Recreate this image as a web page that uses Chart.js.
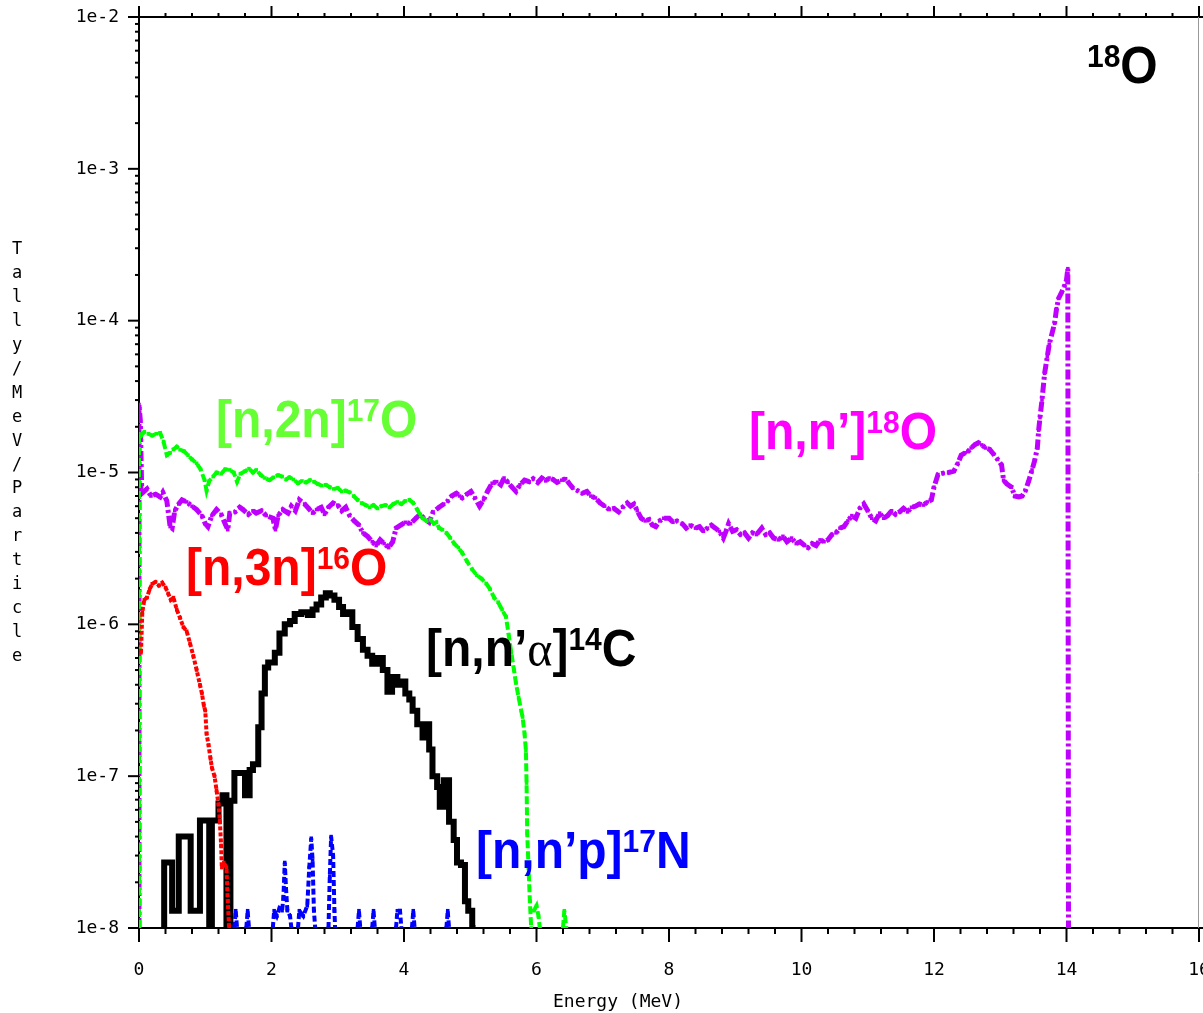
<!DOCTYPE html>
<html>
<head>
<meta charset="utf-8">
<script src="https://cdn.jsdelivr.net/npm/chart.js@4.4.1/dist/chart.umd.min.js"></script>
<style>
  html, body { margin: 0; padding: 0; background: #fff; }
  #wrap { width: 1203px; height: 1013px; }
</style>
</head>
<body>
<div id="wrap"><canvas id="chart" width="1203" height="1013"></canvas></div>
<script>
// Tally/MeV/Particle vs energy for n + 18O.
// null = empty bin (line broken), 1e-8 = drop to the floor of the axis.

// [n,n']18O
const nnX = [0, 0, 0.02, 0.04, 0.06, 0.12, 0.18, 0.25, 0.32, 0.36, 0.42, 0.47, 0.5, 0.54, 0.6, 0.65, 0.72, 0.8, 0.87, 0.95,
  1.0, 1.04, 1.1, 1.17, 1.24, 1.3, 1.34, 1.37, 1.45, 1.52, 1.57, 1.65, 1.72, 1.77, 1.85, 1.92, 2.02, 2.06, 2.1, 2.17,
  2.25, 2.3, 2.36, 2.42, 2.5, 2.56, 2.62, 2.68, 2.75, 2.8, 2.86, 2.93, 3.0, 3.06, 3.12, 3.18, 3.25, 3.32, 3.38, 3.45,
  3.52, 3.58, 3.64, 3.7, 3.77, 3.83, 3.88, 3.95, 4.02, 4.1, 4.18, 4.24, 4.3, 4.38, 4.44, 4.53, 4.6, 4.66, 4.72, 4.79,
  4.84, 4.88, 4.95, 5.01, 5.07, 5.14, 5.2, 5.26, 5.33, 5.4, 5.46, 5.51, 5.57, 5.63, 5.69, 5.75, 5.82, 5.89, 5.95, 6.02,
  6.08, 6.14, 6.19, 6.25, 6.31, 6.38, 6.44, 6.49, 6.55, 6.62, 6.69, 6.76, 6.82, 6.89, 6.96, 7.03, 7.1, 7.17, 7.24, 7.3,
  7.37, 7.42, 7.47, 7.52, 7.58, 7.64, 7.7, 7.75, 7.8, 7.86, 7.92, 8.0, 8.06, 8.12, 8.2, 8.26, 8.32, 8.4, 8.46, 8.52,
  8.58, 8.64, 8.7, 8.76, 8.82, 8.86, 8.9, 8.96, 9.02, 9.08, 9.14, 9.2, 9.26, 9.32, 9.4, 9.46, 9.52, 9.58, 9.65, 9.72,
  9.78, 9.85, 9.92, 9.98, 10.05, 10.1, 10.16, 10.22, 10.28, 10.34, 10.4, 10.46, 10.52, 10.58, 10.64, 10.7, 10.76, 10.82, 10.88, 10.94,
  11.0, 11.06, 11.12, 11.18, 11.24, 11.3, 11.36, 11.42, 11.48, 11.54, 11.6, 11.66, 11.72, 11.78, 11.84, 11.9, 11.96, 12.0, 12.06, 12.14,
  12.22, 12.3, 12.36, 12.41, 12.47, 12.51, 12.56, 12.62, 12.67, 12.72, 12.78, 12.84, 12.9, 12.96, 13.02, 13.05, 13.1, 13.17, 13.22, 13.28,
  13.33, 13.38, 13.43, 13.48, 13.52, 13.56, 13.58, 13.6, 13.63, 13.67, 13.71, 13.74, 13.78, 13.82, 13.85, 13.88, 13.93, 13.97, 14.0, 14.02,
  14.03];
const nnY = [1e-8, 2.8e-5, 2.2e-5, 8e-6, 7.4e-6, 7.8e-6, 7.0e-6, 7.2e-6, 6.9e-6, 7.4e-6, 6.5e-6, 4.4e-6, 4.3e-6, 5.6e-6, 6.2e-6, 6.6e-6, 6.4e-6, 6.0e-6, 5.7e-6, 5.2e-6,
  4.6e-6, 4.4e-6, 5.2e-6, 5.7e-6, 5.3e-6, 4.6e-6, 4.2e-6, 5.4e-6, 5.5e-6, 5.9e-6, 5.7e-6, 5.3e-6, 5.6e-6, 5.4e-6, 5.6e-6, 5.2e-6, 5.0e-6, 4.2e-6, 5.2e-6, 5.7e-6,
  5.4e-6, 6.0e-6, 5.6e-6, 6.6e-6, 6.2e-6, 5.8e-6, 5.4e-6, 5.7e-6, 5.9e-6, 5.3e-6, 5.9e-6, 6.3e-6, 6.1e-6, 5.6e-6, 5.9e-6, 5.2e-6, 4.8e-6, 4.5e-6, 4.0e-6, 3.8e-6,
  3.5e-6, 3.3e-6, 3.6e-6, 3.4e-6, 3.2e-6, 3.5e-6, 4.3e-6, 4.5e-6, 4.7e-6, 4.6e-6, 5.0e-6, 5.3e-6, 5.0e-6, 4.7e-6, 5.5e-6, 5.9e-6, 6.2e-6, 6.5e-6, 7.0e-6, 7.3e-6,
  7.0e-6, 6.8e-6, 7.2e-6, 7.5e-6, 6.8e-6, 6.0e-6, 6.6e-6, 7.5e-6, 8.5e-6, 8.7e-6, 8.3e-6, 9.2e-6, 8.6e-6, 8.0e-6, 7.5e-6, 8.3e-6, 8.9e-6, 8.7e-6, 9.1e-6, 8.6e-6,
  9.2e-6, 8.8e-6, 9.2e-6, 9.0e-6, 8.6e-6, 8.9e-6, 9.1e-6, 8.5e-6, 7.9e-6, 7.6e-6, 7.3e-6, 7.5e-6, 7.0e-6, 6.8e-6, 6.3e-6, 6.0e-6, 5.7e-6, 5.8e-6, 5.5e-6, 5.9e-6,
  6.3e-6, 6.0e-6, 6.2e-6, 5.6e-6, 5.0e-6, 4.8e-6, 4.9e-6, 4.5e-6, 4.4e-6, 4.8e-6, 5.0e-6, 5.0e-6, 4.7e-6, 4.8e-6, 4.6e-6, 4.3e-6, 4.5e-6, 4.3e-6, 4.4e-6, 4.1e-6,
  4.3e-6, 4.5e-6, 4.3e-6, 4.1e-6, 3.7e-6, 4.1e-6, 4.6e-6, 4.1e-6, 4.2e-6, 3.9e-6, 4.0e-6, 3.7e-6, 4.0e-6, 3.9e-6, 4.3e-6, 3.9e-6, 4.0e-6, 3.7e-6, 3.6e-6, 3.8e-6,
  3.5e-6, 3.7e-6, 3.4e-6, 3.5e-6, 3.3e-6, 3.2e-6, 3.4e-6, 3.3e-6, 3.6e-6, 3.5e-6, 3.6e-6, 3.9e-6, 4.0e-6, 4.3e-6, 4.4e-6, 4.8e-6, 5.2e-6, 5.0e-6, 5.8e-6, 6.2e-6,
  5.6e-6, 5.0e-6, 4.8e-6, 5.4e-6, 5.0e-6, 5.2e-6, 5.6e-6, 5.3e-6, 5.5e-6, 5.8e-6, 5.5e-6, 5.9e-6, 6.0e-6, 6.2e-6, 6.1e-6, 6.4e-6, 6.6e-6, 8.0e-6, 9.7e-6, 9.9e-6,
  1.0e-5, 1.02e-5, 1.15e-5, 1.3e-5, 1.35e-5, 1.37e-5, 1.45e-5, 1.53e-5, 1.57e-5, 1.52e-5, 1.45e-5, 1.42e-5, 1.32e-5, 1.22e-5, 1.12e-5, 8.9e-6, 8.4e-6, 8.0e-6, 7.0e-6, 6.9e-6,
  7.0e-6, 7.6e-6, 8.8e-6, 1.04e-5, 1.2e-5, 1.45e-5, 1.9e-5, 2.3e-5, 3.0e-5, 4.5e-5, 5.8e-5, 7.0e-5, 8.2e-5, 9.6e-5, 1.2e-4, 1.4e-4, 1.55e-4, 1.7e-4, 1.85e-4, 2.2e-4,
  1e-8];

// [n,2n]17O
const n2nX = [0, 0, 0.03, 0.08, 0.14, 0.2, 0.26, 0.32, 0.37, 0.42, 0.47, 0.52, 0.57, 0.62, 0.68, 0.74, 0.8, 0.87, 0.93, 0.99,
  1.02, 1.06, 1.12, 1.17, 1.24, 1.3, 1.37, 1.43, 1.48, 1.53, 1.6, 1.66, 1.72, 1.77, 1.84, 1.9, 1.97, 2.03, 2.1, 2.16,
  2.22, 2.27, 2.33, 2.4, 2.46, 2.52, 2.58, 2.64, 2.7, 2.76, 2.82, 2.88, 2.94, 3.0, 3.06, 3.12, 3.18, 3.24, 3.3, 3.36,
  3.42, 3.48, 3.54, 3.6, 3.66, 3.72, 3.78, 3.84, 3.9, 3.96, 4.02, 4.08, 4.14, 4.2, 4.25, 4.28, 4.34, 4.4, 4.45, 4.49,
  4.53, 4.58, 4.64, 4.7, 4.76, 4.82, 4.88, 4.95, 5.03, 5.1, 5.17, 5.24, 5.3, 5.36, 5.42, 5.48, 5.54, 5.58, 5.62, 5.66,
  5.69, 5.73, 5.77, 5.79, 5.82, 5.84, 5.85, 5.86, 5.88, 5.9, 5.92, 5.92, 5.96, 6.0, 6.03, 6.05, 6.05, 6.4, 6.42, 6.45];
const n2nY = [1e-8, 1.8e-5, 1.75e-5, 1.85e-5, 1.8e-5, 1.75e-5, 1.8e-5, 1.82e-5, 1.6e-5, 1.3e-5, 1.35e-5, 1.42e-5, 1.48e-5, 1.41e-5, 1.38e-5, 1.3e-5, 1.22e-5, 1.15e-5, 1.05e-5, 8.9e-6,
  7.6e-6, 8.8e-6, 9.4e-6, 1.0e-5, 9.8e-6, 1.05e-5, 1.04e-5, 1.0e-5, 8.7e-6, 9.8e-6, 1.02e-5, 1.06e-5, 1.0e-5, 1.04e-5, 9.6e-6, 9.2e-6, 8.9e-6, 9.3e-6, 9.6e-6, 9.4e-6,
  9.0e-6, 9.3e-6, 9.0e-6, 8.5e-6, 8.8e-6, 8.6e-6, 8.9e-6, 8.7e-6, 8.4e-6, 8.2e-6, 8.3e-6, 8.0e-6, 7.8e-6, 7.9e-6, 7.5e-6, 7.6e-6, 7.4e-6, 7.0e-6, 6.6e-6, 6.3e-6,
  6.1e-6, 5.9e-6, 6.1e-6, 5.8e-6, 6.0e-6, 6.1e-6, 5.9e-6, 6.2e-6, 6.4e-6, 6.2e-6, 6.5e-6, 6.6e-6, 6.3e-6, 5.7e-6, 5.2e-6, 5.0e-6, 4.8e-6, 4.9e-6, 4.6e-6, 4.7e-6,
  4.3e-6, 4.2e-6, 4.0e-6, 3.7e-6, 3.4e-6, 3.2e-6, 2.95e-6, 2.6e-6, 2.3e-6, 2.1e-6, 2.0e-6, 1.86e-6, 1.7e-6, 1.5e-6, 1.4e-6, 1.25e-6, 1.12e-6, 8.5e-7, 6.5e-7, 5.0e-7,
  4.1e-7, 3.3e-7, 2.7e-7, 2.45e-7, 1.9e-7, 1.48e-7, 9e-8, 4.2e-8, 2.5e-8, 1.5e-8, 1e-8, null, 1.3e-8, 1.4e-8, 1.2e-8, 1e-8, null, 1e-8, 1.3e-8, 1e-8];

// [n,3n]16O
const n3nX = [0.03, 0.05, 0.08, 0.12, 0.16, 0.2, 0.25, 0.3, 0.35, 0.4, 0.44, 0.48, 0.52, 0.57, 0.62, 0.67, 0.72, 0.77, 0.82, 0.87,
  0.92, 0.95, 0.98, 1.0, 1.02, 1.05, 1.08, 1.1, 1.14, 1.17, 1.2, 1.22, 1.24, 1.25, 1.28, 1.32, 1.34, 1.36];
const n3nY = [6.5e-7, 1.2e-6, 1.45e-6, 1.5e-6, 1.7e-6, 1.85e-6, 1.9e-6, 1.8e-6, 1.88e-6, 1.75e-6, 1.6e-6, 1.45e-6, 1.5e-6, 1.25e-6, 1.1e-6, 9.6e-7, 9.0e-7, 7.5e-7, 6.2e-7, 5.0e-7,
  4.0e-7, 3.5e-7, 2.9e-7, 2.7e-7, 1.9e-7, 1.6e-7, 1.3e-7, 1.14e-7, 1.0e-7, 8.1e-8, 6.5e-8, 5.1e-8, 3.5e-8, 2.5e-8, 2.7e-8, 2.5e-8, 1.5e-8, 1e-8];

// [n,n'alpha]14C (histogram, stepped)
const nnaX = [0.38, 0.38, 0.5, 0.6, 0.78, 0.92, 1.06, 1.1, 1.2, 1.26, 1.32, 1.38, 1.44, 1.6, 1.67, 1.72, 1.8, 1.85, 1.9, 1.95,
  2.05, 2.12, 2.2, 2.28, 2.35, 2.45, 2.55, 2.62, 2.68, 2.75, 2.82, 2.88, 2.95, 3.02, 3.08, 3.15, 3.22, 3.3, 3.38, 3.45,
  3.52, 3.6, 3.68, 3.75, 3.82, 3.9, 3.96, 4.02, 4.08, 4.13, 4.2, 4.28, 4.34, 4.38, 4.43, 4.5, 4.54, 4.6, 4.68, 4.75,
  4.8, 4.86, 4.92, 4.97, 5.03, 5.08];
const nnaY = [1e-8, 1.3e-8, 2.7e-8, 1.3e-8, 4.0e-8, 1.3e-8, 5.1e-8, 1e-8, 5.1e-8, 6.6e-8, 7.5e-8, 1e-8, 6.9e-8, 1.05e-7, 7.5e-8, 1.1e-7, 1.2e-7, 2.1e-7, 3.5e-7, 5.2e-7,
  5.6e-7, 6.5e-7, 8.7e-7, 1.0e-6, 1.05e-6, 1.17e-6, 1.2e-6, 1.15e-6, 1.25e-6, 1.35e-6, 1.5e-6, 1.6e-6, 1.55e-6, 1.45e-6, 1.3e-6, 1.17e-6, 1.2e-6, 9.6e-7, 8.0e-7, 6.8e-7,
  6.2e-7, 5.5e-7, 6.0e-7, 5.0e-7, 3.6e-7, 4.5e-7, 4.0e-7, 4.2e-7, 3.5e-7, 3.2e-7, 2.7e-7, 2.2e-7, 1.8e-7, 2.2e-7, 1.5e-7, 1.0e-7, 8.5e-8, 6.3e-8, 9.4e-8, 5.0e-8,
  3.8e-8, 2.7e-8, 2.6e-8, 1.5e-8, 1.3e-8, 1e-8];

// [n,n'p]17N (only a few non-empty bins)
const nnpX = [1.44, 1.46, 1.48, 1.5, 1.62, 1.64, 1.66, 1.7, 2.02, 2.04, 2.08, 2.12, 2.16, 2.18, 2.2, 2.22, 2.24, 2.28, 2.3, 2.35,
  2.4, 2.42, 2.48, 2.54, 2.57, 2.6, 2.62, 2.64, 2.66, 2.75, 2.86, 2.88, 2.9, 2.93, 2.95, 2.96, 3.1, 3.3, 3.32, 3.34,
  3.4, 3.52, 3.54, 3.56, 3.7, 3.88, 3.9, 3.94, 3.96, 4.0, 4.12, 4.14, 4.16, 4.4, 4.64, 4.66, 4.68];
const nnpY = [1e-8, 1.3e-8, 1e-8, null, 1e-8, 1.3e-8, 1e-8, null, 1e-8, 1.3e-8, 1.2e-8, 1.35e-8, 1.3e-8, 1.6e-8, 2.7e-8, 1.8e-8, 1.3e-8, 1.2e-8, 1e-8, null,
  1e-8, 1.3e-8, 1.2e-8, 1.4e-8, 2.5e-8, 3.9e-8, 2.8e-8, 1.3e-8, 1e-8, null, 1e-8, 2.2e-8, 4.0e-8, 3.0e-8, 1.3e-8, 1e-8, null, 1e-8, 1.3e-8, 1e-8,
  null, 1e-8, 1.3e-8, 1e-8, null, 1e-8, 1.3e-8, 1.3e-8, 1e-8, null, 1e-8, 1.3e-8, 1e-8, null, 1e-8, 1.3e-8, 1e-8];

const xTicks = [0, 2, 4, 6, 8, 10, 12, 14, 16];
const yTicks = [1e-8, 1e-7, 1e-6, 1e-5, 1e-4, 1e-3, 1e-2];

const pts = (xs, ys) => xs.map((x, i) => ({ x: x, y: ys[i] }));

function series(label, xs, ys, color, dash, width, stepped) {
  return {
    label: label,
    data: pts(xs, ys),
    borderColor: color,
    backgroundColor: color,
    borderWidth: width,
    borderDash: dash,
    stepped: stepped || false,
    pointRadius: stepped ? 0 : 2.5,
    pointStyle: 'rect',
    pointBorderWidth: 0,
    pointBackgroundColor: color,
    spanGaps: false,
    tension: 0
  };
}

const mono = '"DejaVu Sans Mono", monospace';

function seg(ctx, x1, y1, x2, y2) {
  ctx.beginPath();
  ctx.moveTo(x1, y1);
  ctx.lineTo(x2, y2);
  ctx.stroke();
}

// text with superscripts, a little taller than plain Arial like the original slide
function drawRich(ctx, parts, x, y, color) {
  ctx.save();
  ctx.translate(x, y);
  ctx.scale(1, 1.07);
  ctx.fillStyle = color;
  ctx.textBaseline = 'alphabetic';
  ctx.textAlign = 'left';
  let cx = 0;
  for (const [t, kind] of parts) {
    let dy = 0;
    if (kind === 'sup') { ctx.font = 'bold 30px "Liberation Sans"'; dy = -15; }
    else if (kind === 'greek') ctx.font = '48px "Liberation Serif"';
    else ctx.font = 'bold 48px "Liberation Sans"';
    ctx.fillText(t, cx, dy);
    cx += ctx.measureText(t).width;
  }
  ctx.restore();
}

const notes = [
  { parts: [['18', 'sup'], ['O', '']], color: '#000000', x: 1087, y: 83 },
  { parts: [['[n,2n]', ''], ['17', 'sup'], ['O', '']], color: '#66ff33', x: 216, y: 437 },
  { parts: [['[n,n\u2019]', ''], ['18', 'sup'], ['O', '']], color: '#ff00ff', x: 749, y: 449 },
  { parts: [['[n,3n]', ''], ['16', 'sup'], ['O', '']], color: '#ff0000', x: 186, y: 585 },
  { parts: [['[n,n\u2019', ''], ['\u03b1', 'greek'], [']', ''], ['14', 'sup'], ['C', '']], color: '#000000', x: 426, y: 666 },
  { parts: [['[n,n\u2019p]', ''], ['17', 'sup'], ['N', '']], color: '#0000ff', x: 476, y: 868 }
];

const frame = {
  id: 'frame',
  beforeDatasetsDraw(chart) {
    const { ctx, chartArea: a, scales: { x, y } } = chart;
    ctx.save();
    ctx.strokeStyle = '#000';
    ctx.lineWidth = 2;
    seg(ctx, a.left, a.top - 11, a.left, a.bottom + 14);
    seg(ctx, a.left - 9, a.top, 1203, a.top);
    seg(ctx, a.left - 9, a.bottom, 1203, a.bottom);
    // x ticks every 0.4 MeV, long ones at the labelled values
    for (let i = 0; i <= 40; i++) {
      const px = x.getPixelForValue(i * 0.4);
      const major = i % 5 === 0;
      seg(ctx, px, a.bottom, px, a.bottom + (major ? 14 : 6));
      seg(ctx, px, a.top, px, a.top - (major ? 11 : 4));
    }
    // y ticks, decades long, 2..9 short
    for (let e = -8; e <= -2; e++) {
      for (let k = 1; k <= 9; k++) {
        if (e === -2 && k > 1) break;
        const py = y.getPixelForValue(k * Math.pow(10, e));
        if (k === 1) seg(ctx, a.left - 11, py, a.left + 1, py);
        else seg(ctx, a.left - 4, py, a.left, py);
      }
    }
    ctx.strokeStyle = '#999';
    ctx.lineWidth = 1;
    seg(ctx, a.right - 0.5, a.top, a.right - 0.5, a.bottom);
    ctx.restore();
  },
  afterDraw(chart) {
    const { ctx, scales: { x } } = chart;
    ctx.save();
    ctx.fillStyle = '#000';
    ctx.font = '18px ' + mono;
    ctx.textAlign = 'center';
    ctx.textBaseline = 'middle';
    // energy tick labels
    for (const t of x.ticks) {
      ctx.fillText(String(t.value), x.getPixelForValue(t.value), 970);
    }
    ctx.fillText('Energy (MeV)', 618, 1002);
    const title = 'Tally/MeV/Particle';
    ctx.font = '17px ' + mono;
    for (let i = 0; i < title.length; i++) {
      ctx.fillText(title[i], 17, 250 + i * 23.9);
    }
    ctx.restore();
    for (const n of notes) drawRich(ctx, n.parts, n.x, n.y, n.color);
  }
};

new Chart(document.getElementById('chart'), {
  type: 'line',
  data: {
    datasets: [
      series('[n,n\'p]17N', nnpX, nnpY, '#0000ff', [6, 3], 4),
      series('[n,3n]16O', n3nX, n3nY, '#ff0000', [4, 2], 4),
      series('[n,n\'a]14C', nnaX, nnaY, '#000000', [], 6, 'after'),
      series('[n,2n]17O', n2nX, n2nY, '#00ff00', [8, 3], 4),
      series('[n,n\']18O', nnX, nnY, '#bf00ff', [10, 3, 3, 3], 5)
    ]
  },
  options: {
    responsive: false,
    animation: false,
    layout: { padding: { top: 17, right: 1, left: 0, bottom: 0 } },
    plugins: { legend: { display: false }, tooltip: { enabled: false } },
    scales: {
      x: {
        type: 'linear',
        min: 0,
        max: 16,
        afterBuildTicks: s => { s.ticks = xTicks.map(v => ({ value: v })); },
        afterFit: s => { s.height = 85; s.paddingLeft = 0; s.paddingRight = 0; },
        ticks: { display: false },
        grid: { display: false, drawTicks: false },
        border: { display: false }
      },
      y: {
        type: 'logarithmic',
        min: 1e-8,
        max: 1e-2,
        afterBuildTicks: s => { s.ticks = yTicks.map(v => ({ value: v })); },
        afterFit: s => { s.width = 139; s.paddingTop = 0; s.paddingBottom = 0; },
        ticks: {
          font: { family: mono, size: 18 },
          color: '#000',
          padding: 20,
          autoSkip: false,
          callback: v => '1e' + Math.round(Math.log10(v))
        },
        grid: { display: false, drawTicks: false },
        border: { display: false }
      }
    }
  },
  plugins: [frame]
});
</script>
</body>
</html>
